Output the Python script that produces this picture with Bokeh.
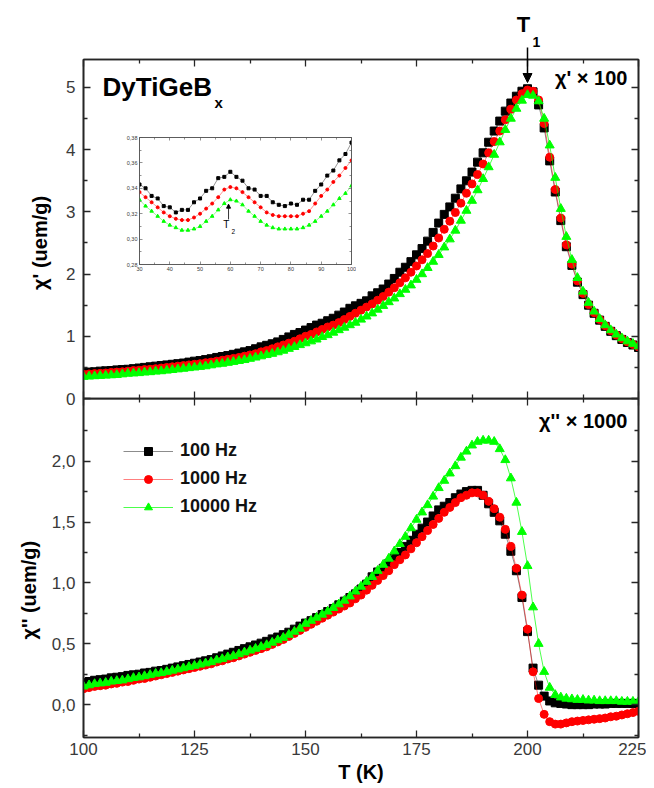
from bokeh.plotting import figure
from bokeh.models import (Range1d, LinearAxis, FixedTicker, CustomJSTickFormatter, Label,
                          Arrow, NormalHead, Legend, LegendItem, GridBox)
from bokeh.embed import file_html
from bokeh.resources import INLINE

FONT = "Liberation Sans"
FRAME = "#262626"
TICKLAB = "#3a3a3a"

# ---------------- data ----------------
T = [100.0, 101.25, 102.5, 103.75, 105.0, 106.25, 107.5, 108.75,
     110.0, 111.25, 112.5, 113.75, 115.0, 116.25, 117.5, 118.75,
     120.0, 121.25, 122.5, 123.75, 125.0, 126.25, 127.5, 128.75,
     130.0, 131.25, 132.5, 133.75, 135.0, 136.25, 137.5, 138.75,
     140.0, 141.25, 142.5, 143.75, 145.0, 146.25, 147.5, 148.75,
     150.0, 151.25, 152.5, 153.75, 155.0, 156.25, 157.5, 158.75,
     160.0, 161.25, 162.5, 163.75, 165.0, 166.25, 167.5, 168.75,
     170.0, 171.25, 172.5, 173.75, 175.0, 176.25, 177.5, 178.75,
     180.0, 181.25, 182.5, 183.75, 185.0, 186.25, 187.5, 188.75,
     190.0, 191.25, 192.5, 193.75, 195.0, 196.25, 197.5, 198.75,
     200.0, 201.25, 202.5, 203.75, 205.0, 206.25, 207.5, 208.75,
     210.0, 211.25, 212.5, 213.75, 215.0, 216.25, 217.5, 218.75,
     220.0, 221.25, 222.5, 223.75, 225.0]

# chi' x 100 (upper panel)
chi1_100 = [0.42, 0.425, 0.43, 0.44, 0.445, 0.45, 0.46, 0.465,
            0.47, 0.48, 0.49, 0.50, 0.51, 0.52, 0.53, 0.54,
            0.55, 0.56, 0.57, 0.585, 0.60, 0.61, 0.625, 0.64,
            0.66, 0.675, 0.69, 0.71, 0.73, 0.75, 0.77, 0.80,
            0.83, 0.855, 0.88, 0.91, 0.95, 0.99, 1.03, 1.06,
            1.10, 1.14, 1.18, 1.21, 1.25, 1.29, 1.34, 1.39,
            1.45, 1.49, 1.53, 1.57, 1.65, 1.70, 1.76, 1.84,
            1.93, 2.03, 2.11, 2.20, 2.31, 2.41, 2.53, 2.67,
            2.82, 2.96, 3.08, 3.22, 3.37, 3.50, 3.64, 3.80,
            3.95, 4.12, 4.30, 4.46, 4.62, 4.75, 4.86, 4.94,
            4.98, 4.93, 4.72, 4.35, 3.82, 3.32, 2.86, 2.44,
            2.14, 1.87, 1.67, 1.50, 1.37, 1.26, 1.16, 1.08,
            1.01, 0.95, 0.90, 0.86, 0.82]
chi1_1000 = [0.39, 0.395, 0.40, 0.405, 0.41, 0.42, 0.425, 0.43,
             0.44, 0.45, 0.455, 0.465, 0.47, 0.48, 0.49, 0.50,
             0.51, 0.52, 0.53, 0.54, 0.55, 0.56, 0.575, 0.585,
             0.60, 0.615, 0.63, 0.645, 0.66, 0.68, 0.70, 0.72,
             0.75, 0.77, 0.80, 0.83, 0.86, 0.89, 0.92, 0.96,
             1.00, 1.03, 1.07, 1.11, 1.15, 1.18, 1.22, 1.27,
             1.32, 1.37, 1.42, 1.47, 1.52, 1.58, 1.64, 1.71,
             1.78, 1.86, 1.94, 2.03, 2.13, 2.23, 2.33, 2.45,
             2.58, 2.72, 2.85, 2.99, 3.14, 3.30, 3.45, 3.60,
             3.77, 3.95, 4.13, 4.30, 4.48, 4.65, 4.80, 4.90,
             4.96, 4.94, 4.80, 4.42, 3.88, 3.36, 2.90, 2.47,
             2.16, 1.89, 1.69, 1.51, 1.38, 1.27, 1.17, 1.09,
             1.02, 0.96, 0.91, 0.87, 0.83]
chi1_10000 = [0.35, 0.355, 0.36, 0.365, 0.37, 0.375, 0.38, 0.39,
              0.40, 0.405, 0.41, 0.42, 0.425, 0.435, 0.44, 0.45,
              0.46, 0.47, 0.48, 0.49, 0.50, 0.51, 0.52, 0.535,
              0.55, 0.56, 0.575, 0.59, 0.605, 0.62, 0.64, 0.66,
              0.68, 0.70, 0.72, 0.745, 0.77, 0.80, 0.83, 0.86,
              0.89, 0.92, 0.95, 0.99, 1.02, 1.06, 1.10, 1.14,
              1.18, 1.22, 1.27, 1.32, 1.37, 1.43, 1.49, 1.55,
              1.61, 1.68, 1.75, 1.82, 1.91, 2.00, 2.10, 2.20,
              2.31, 2.43, 2.56, 2.70, 2.86, 3.02, 3.18, 3.35,
              3.53, 3.72, 3.92, 4.12, 4.32, 4.50, 4.66, 4.79,
              4.88, 4.87, 4.78, 4.50, 4.07, 3.55, 3.05, 2.60,
              2.23, 1.94, 1.72, 1.54, 1.40, 1.28, 1.18, 1.10,
              1.03, 0.97, 0.92, 0.88, 0.84]

# chi'' x 1000 (lower panel)
chi2_100 = [0.18, 0.19, 0.20, 0.205, 0.21, 0.22, 0.225, 0.23,
            0.24, 0.245, 0.25, 0.26, 0.265, 0.275, 0.28, 0.29,
            0.30, 0.31, 0.32, 0.33, 0.34, 0.35, 0.36, 0.37,
            0.385, 0.40, 0.415, 0.43, 0.445, 0.46, 0.475, 0.49,
            0.505, 0.52, 0.54, 0.555, 0.575, 0.595, 0.62, 0.645,
            0.67, 0.69, 0.715, 0.74, 0.765, 0.79, 0.82, 0.85,
            0.88, 0.91, 0.95, 0.99, 1.05, 1.09, 1.12, 1.16,
            1.21, 1.25, 1.30, 1.35, 1.40, 1.45, 1.50, 1.55,
            1.60, 1.63, 1.66, 1.70, 1.73, 1.75, 1.76, 1.76,
            1.72, 1.65, 1.58, 1.51, 1.40, 1.26, 1.10, 0.88,
            0.60, 0.30, 0.16, 0.07, 0.03, 0.015, 0.01, 0.005,
            0.0, 0.0, 0.0, 0.0, 0.005, 0.005, 0.005, 0.01,
            0.01, 0.01, 0.01, 0.01, 0.01]
chi2_1000 = [0.13, 0.14, 0.15, 0.155, 0.16, 0.17, 0.175, 0.185,
             0.19, 0.20, 0.21, 0.215, 0.225, 0.235, 0.245, 0.255,
             0.265, 0.275, 0.285, 0.295, 0.305, 0.315, 0.325, 0.335,
             0.35, 0.36, 0.375, 0.385, 0.40, 0.415, 0.43, 0.445,
             0.46, 0.475, 0.495, 0.515, 0.535, 0.56, 0.585, 0.61,
             0.635, 0.66, 0.685, 0.71, 0.735, 0.76, 0.785, 0.81,
             0.835, 0.87, 0.90, 0.94, 0.98, 1.02, 1.06, 1.10,
             1.15, 1.19, 1.23, 1.28, 1.33, 1.38, 1.43, 1.48,
             1.53, 1.58, 1.62, 1.66, 1.70, 1.72, 1.74, 1.74,
             1.72, 1.67, 1.61, 1.54, 1.44, 1.30, 1.12, 0.90,
             0.62, 0.27, 0.05, -0.08, -0.14, -0.16, -0.16, -0.15,
             -0.14, -0.135, -0.13, -0.125, -0.12, -0.115, -0.11, -0.10,
             -0.095, -0.085, -0.075, -0.065, -0.055]
chi2_10000 = [0.15, 0.16, 0.17, 0.175, 0.18, 0.19, 0.195, 0.20,
              0.21, 0.22, 0.225, 0.235, 0.245, 0.255, 0.26, 0.27,
              0.28, 0.29, 0.30, 0.31, 0.32, 0.33, 0.34, 0.35,
              0.365, 0.375, 0.39, 0.40, 0.415, 0.43, 0.445, 0.46,
              0.475, 0.49, 0.51, 0.53, 0.55, 0.575, 0.60, 0.625,
              0.665, 0.69, 0.715, 0.74, 0.765, 0.795, 0.825, 0.855,
              0.89, 0.93, 0.97, 1.01, 1.05, 1.10, 1.15, 1.20,
              1.26, 1.32, 1.38, 1.45, 1.52, 1.58, 1.64, 1.71,
              1.78, 1.84, 1.90, 1.96, 2.03, 2.08, 2.13, 2.16,
              2.17, 2.17, 2.16, 2.10, 2.01, 1.86, 1.66, 1.42,
              1.14, 0.80, 0.50, 0.27, 0.14, 0.08, 0.06, 0.05,
              0.045, 0.04, 0.04, 0.035, 0.035, 0.03, 0.03, 0.03,
              0.03, 0.025, 0.025, 0.025, 0.025]

# inset: chi' at low temperature
T_in = [30, 32, 34, 36, 38, 40, 42, 44, 46, 48, 50, 52, 54, 56, 58, 60, 62, 64,
        66, 68, 70, 72, 74, 76, 78, 80, 82, 84, 86, 88, 90, 92, 94, 96, 98, 100]
in_100 = [0.343, 0.340, 0.334, 0.332, 0.326, 0.325, 0.321, 0.323, 0.323, 0.329, 0.332, 0.338,
          0.340, 0.348, 0.349, 0.353, 0.349, 0.346, 0.340, 0.339, 0.334, 0.334, 0.329, 0.327,
          0.326, 0.328, 0.327, 0.331, 0.331, 0.338, 0.343, 0.350, 0.354, 0.362, 0.367, 0.376]
in_1000 = [0.337, 0.333, 0.329, 0.325, 0.321, 0.318, 0.316, 0.315, 0.315, 0.317, 0.320, 0.324,
           0.328, 0.333, 0.339, 0.341, 0.340, 0.337, 0.333, 0.329, 0.325, 0.321, 0.319, 0.318,
           0.318, 0.318, 0.318, 0.320, 0.322, 0.328, 0.334, 0.339, 0.345, 0.350, 0.356, 0.362]
in_10000 = [0.331, 0.326, 0.322, 0.318, 0.314, 0.311, 0.309, 0.307, 0.307, 0.308, 0.310, 0.314,
            0.318, 0.323, 0.328, 0.331, 0.330, 0.327, 0.322, 0.318, 0.314, 0.311, 0.309, 0.308,
            0.308, 0.308, 0.308, 0.309, 0.311, 0.314, 0.318, 0.322, 0.327, 0.332, 0.336, 0.342]

x_ticks = [100, 125, 150, 175, 200, 225]
x_minor = [112.5, 137.5, 162.5, 187.5, 212.5]
y1_ticks = [0, 1, 2, 3, 4, 5]
y1_minor = [0.5, 1.5, 2.5, 3.5, 4.5]
y2_ticks = [0.0, 0.5, 1.0, 1.5, 2.0]
y2_minor = [-0.25, 0.25, 0.75, 1.25, 1.75, 2.25]
in_x_ticks = [30, 40, 50, 60, 70, 80, 90, 100]
in_x_minor = [35, 45, 55, 65, 75, 85, 95]
in_y_ticks = [0.28, 0.30, 0.32, 0.34, 0.36, 0.38]
in_y_minor = [0.29, 0.31, 0.33, 0.35, 0.37]

series_labels = ["100 Hz", "1000 Hz", "10000 Hz"]
NBSP = "\u00a0"

EMPTY = CustomJSTickFormatter(code="return '';")


def style_axis(ax, show_labels, tick_in=7, minor_in=4, lw=1.6, size="17px", color=FRAME):
    ax.major_tick_in = tick_in
    ax.major_tick_out = 0
    ax.minor_tick_in = minor_in
    ax.minor_tick_out = 0
    ax.axis_line_color = color
    ax.axis_line_width = lw
    ax.major_tick_line_color = color
    ax.major_tick_line_width = lw * 0.8
    ax.minor_tick_line_color = color
    ax.minor_tick_line_width = lw * 0.8
    ax.major_label_text_font = FONT
    ax.major_label_text_color = TICKLAB
    if show_labels:
        ax.major_label_text_font_size = size
    else:
        ax.formatter = EMPTY
        ax.major_label_text_font_size = "1px"
        ax.major_label_standoff = 0
    ax.axis_label_text_font = FONT
    ax.axis_label_text_font_style = "bold"
    ax.axis_label_text_font_size = "20px"
    ax.axis_label_text_color = "black"


def make_axes(p, xt, xm, yt, ym, yfmt=None, xlab=None, ylab=None, show_x=False,
              ylab_standoff=10, ystandoff=8, xstandoff=5, **kw):
    for loc in ("left", "right"):
        ax = LinearAxis(ticker=FixedTicker(ticks=yt, minor_ticks=ym))
        if yfmt is not None and loc == "left":
            ax.formatter = yfmt
        style_axis(ax, loc == "left", **kw)
        if loc == "left":
            ax.major_label_standoff = ystandoff
            if ylab:
                ax.axis_label = ylab
                ax.axis_label_standoff = ylab_standoff
        p.add_layout(ax, loc)
    for loc in ("below", "above"):
        ax = LinearAxis(ticker=FixedTicker(ticks=xt, minor_ticks=xm))
        style_axis(ax, show_x and loc == "below", **kw)
        if show_x and loc == "below":
            ax.major_label_standoff = xstandoff
            if xlab:
                ax.axis_label = xlab
                ax.axis_label_standoff = 3
        p.add_layout(ax, loc)


def base_fig(w, h, xr, yr, **borders):
    p = figure(width=w, height=h, output_backend="svg", toolbar_location=None,
               x_range=Range1d(*xr), y_range=Range1d(*yr),
               x_axis_location=None, y_axis_location=None, **borders)
    p.xgrid.visible = False
    p.ygrid.visible = False
    p.outline_line_color = FRAME
    p.outline_line_width = 1.6
    p.background_fill_color = "white"
    return p


# ---------------- upper panel ----------------
top = base_fig(646, 410, (100, 225), (0, 5.45),
               min_border_left=83, min_border_right=8, min_border_top=59, min_border_bottom=12)
top.border_fill_alpha = 0
make_axes(top, x_ticks, x_minor, y1_ticks, y1_minor,
          ylab="χ' (uem/g)" + NBSP * 5, ylab_standoff=12)

styles = [("square", "black", 8, 0.45), ("circle", "red", 8, 0.5), ("triangle", "#00ff00", 9, 0.7)]
for ys, (mk, col, sz, la) in zip([chi1_100, chi1_1000, chi1_10000], styles):
    top.line(T, ys, line_color=col, line_width=1, line_alpha=la)
    top.scatter(T, ys, marker=mk, size=sz, fill_color=col, line_color=col)

top.add_layout(Label(x=104.3, y=4.76, text="DyTiGeB", text_font=FONT, text_font_style="bold",
                     text_font_size="26px", text_color="black"))
top.add_layout(Label(x=129.5, y=4.63, text="x", text_font=FONT, text_font_style="bold",
                     text_font_size="15px", text_color="black"))
top.add_layout(Label(x=222.5, y=4.98, text="χ' × 100", text_font=FONT, text_font_style="bold",
                     text_font_size="20px", text_align="right", text_color="black"))

# T1 marker above the upper frame: a small transparent overlay figure
t1 = figure(width=45, height=75, output_backend="svg", toolbar_location=None,
            x_range=Range1d(0, 45), y_range=Range1d(0, 75),
            x_axis_location=None, y_axis_location=None,
            min_border=0, outline_line_color=None)
t1.xgrid.visible = False
t1.ygrid.visible = False
t1.background_fill_alpha = 0
t1.border_fill_alpha = 0
t1.add_layout(Label(x=18, y=49, text="T", text_font=FONT, text_font_style="bold",
                    text_font_size="22px", text_align="center", text_color="black"))
t1.add_layout(Label(x=27, y=39, text="1", text_font=FONT, text_font_style="bold",
                    text_font_size="14px", text_color="black"))
t1.add_layout(Arrow(x_start=22, y_start=38, x_end=22, y_end=3, line_width=1.5,
                    line_color="black",
                    end=NormalHead(size=9, fill_color="black", line_color="black")))

# ---------------- inset ----------------
ins = base_fig(239, 146, (30, 100), (0.28, 0.38),
               min_border_left=22, min_border_right=5, min_border_top=6, min_border_bottom=13)
ins.border_fill_alpha = 0
ins.outline_line_color = "#555555"
ins.outline_line_width = 0.8
make_axes(ins, in_x_ticks, in_x_minor, in_y_ticks, in_y_minor,
          yfmt=CustomJSTickFormatter(code="return tick.toFixed(2).replace('.', ',');"),
          show_x=True, ystandoff=2, xstandoff=2,
          tick_in=3, minor_in=2, lw=0.8, size="5.5px", color="#555555")
in_styles = [("square", "black", 3), ("circle", "red", 3), ("triangle", "#00ff00", 3.5)]
for ys, (mk, col, sz) in zip([in_100, in_1000, in_10000], in_styles):
    ins.line(T_in, ys, line_color=col, line_width=0.7, line_alpha=0.6)
    ins.scatter(T_in, ys, marker=mk, size=sz, fill_color=col, line_color=col)
ins.add_layout(Arrow(x_start=59.4, y_start=0.3155, x_end=59.4, y_end=0.3275, line_width=0.8,
                     line_color="black",
                     end=NormalHead(size=4, fill_color="black", line_color="black")))
ins.add_layout(Label(x=58.7, y=0.3068, text="T", text_font=FONT, text_font_size="10px",
                     text_align="center", text_color="black"))
ins.add_layout(Label(x=60.4, y=0.3044, text="2", text_font=FONT, text_font_size="6.5px",
                     text_color="black"))

# ---------------- lower panel ----------------
bot = base_fig(646, 388, (100, 225), (-0.27, 2.515),
               min_border_left=83, min_border_right=8, min_border_top=0, min_border_bottom=49)
make_axes(bot, x_ticks, x_minor, y2_ticks, y2_minor,
          yfmt=CustomJSTickFormatter(code="return tick.toFixed(1).replace('.', ',');"),
          xlab="T (K)", ylab="χ'' (uem/g)" + NBSP * 8, show_x=True, ylab_standoff=9)

items = []
for ys, (mk, col, sz, la), lab in zip([chi2_100, chi2_1000, chi2_10000], styles, series_labels):
    lr = bot.line(T, ys, line_color=col, line_width=1, line_alpha=la)
    sr = bot.scatter(T, ys, marker=mk, size=sz, fill_color=col, line_color=col)
    items.append(LegendItem(label=lab, renderers=[lr, sr]))

legend = Legend(items=items, location=(40, 220), glyph_width=50, glyph_height=20,
                label_height=20, spacing=7, padding=0, margin=0, label_standoff=7,
                background_fill_alpha=0, border_line_alpha=0,
                label_text_font=FONT, label_text_font_size="18px",
                label_text_font_style="bold", label_text_color="#111111")
bot.add_layout(legend)

bot.add_layout(Label(x=222.5, y=2.236, text="χ'' × 1000", text_font=FONT,
                     text_font_style="bold", text_font_size="20px", text_align="right",
                     text_color="black"))

# rows: 0-10, 10-85, 85-131, 131-277, 277-398, 398-410, 410-786
# cols: 0-117, 117-356, 356-505, 505-550, 550-646
grid = GridBox(children=[(bot, 5, 0, 2, 5), (top, 0, 0, 6, 5), (ins, 3, 1, 1, 1),
                         (t1, 1, 3, 1, 1)],
               rows=["10px", "75px", "46px", "146px", "121px", "12px", "376px"],
               cols=["117px", "239px", "149px", "45px", "96px"], spacing=0)

open("out.html", "w").write(file_html(grid, INLINE))
